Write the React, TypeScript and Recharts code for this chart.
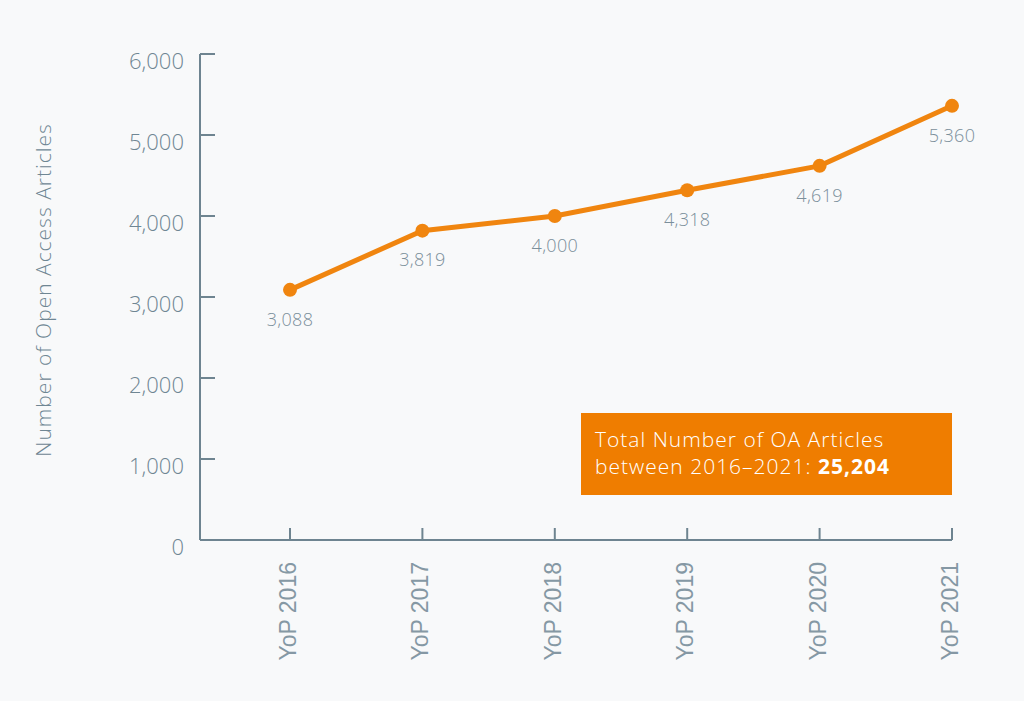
import React from "react";
import { LineChart, Line, XAxis, YAxis, LabelList } from "recharts";

const years = ["YoP 2016", "YoP 2017", "YoP 2018", "YoP 2019", "YoP 2020", "YoP 2021"];
const articles = [3088, 3819, 4000, 4318, 4619, 5360];
const yTicks = [0, 1000, 2000, 3000, 4000, 5000, 6000];
const totalArticles = 25204;

const data = years.map((y, i) => ({ year: y, value: articles[i] }));

const AXIS = "#6e8490";
const TICK_TEXT = "#6f8693";
const LABEL_TEXT = "#7b8f9b";
const ORANGE = "#f0850f";
const BOX = "#ef7d00";
const FONT = "'Open Sans', 'DejaVu Sans', sans-serif";

const fmt = (v: number) => v.toLocaleString("en-US");

const YTick = (props: any) => {
  const { x, y, payload } = props;
  return (
    <g>
      <line x1={x} y1={y} x2={x + 15} y2={y} stroke={AXIS} strokeWidth={2} />
      <text x={x - 16} y={y + 9} textAnchor="end" dominantBaseline="middle" fill={TICK_TEXT} fontSize={22} fontFamily={FONT} fontWeight={300}>
        {fmt(payload.value)}
      </text>
    </g>
  );
};

const XTick = (props: any) => {
  const { x, y, payload } = props;
  return (
    <g>
      <line x1={x} y1={y} x2={x} y2={y - 12} stroke={AXIS} strokeWidth={2} />
      <text
        x={x}
        y={y + 22}
        transform={`rotate(-90 ${x} ${y + 22})`}
        textAnchor="end"
        dominantBaseline="middle"
        fill="#8598a4"
        fontSize={23}
        fontFamily="'Liberation Sans', Arial, sans-serif"
      >
        {payload.value}
      </text>
    </g>
  );
};

const PointLabel = (props: any) => {
  const { x, y, value } = props;
  return (
    <text x={x} y={y + 31} textAnchor="middle" dominantBaseline="middle" fill={LABEL_TEXT} fontSize={18} fontFamily={FONT} fontWeight={300} letterSpacing={0.3}>
      {fmt(value)}
    </text>
  );
};

const YTitle = (props: any) => {
  const { viewBox } = props;
  const cx = viewBox.x - 35;
  const cy = viewBox.y + viewBox.height / 2 - 7;
  return (
    <text x={cx} y={cy} transform={`rotate(-90 ${cx} ${cy})`} textAnchor="middle" dominantBaseline="middle" fill={TICK_TEXT} fontSize={21} fontFamily={FONT} fontWeight={300} letterSpacing={1}>
      Number of Open Access Articles
    </text>
  );
};

export default function App() {
  return (
    <div style={{ position: "fixed", left: 0, top: 0, width: 1024, height: 701, background: "#f8f9fa" }}>
      <LineChart width={1024} height={701} data={data} margin={{ top: 54, right: 72, left: 80, bottom: 41 }}>
        <XAxis
          dataKey="year"
          padding={{ left: 90, right: 0 }}
          axisLine={{ stroke: AXIS, strokeWidth: 2 }}
          tickLine={false}
          tickSize={0}
          tickMargin={0}
          height={120}
          tick={<XTick />}
          interval={0}
        />
        <YAxis
          domain={[0, 6000]}
          ticks={yTicks}
          axisLine={{ stroke: AXIS, strokeWidth: 2 }}
          tickLine={false}
          tickSize={0}
          tickMargin={0}
          width={120}
          tick={<YTick />}
          interval={0}
          label={<YTitle />}
        />
        <Line
          type="linear"
          dataKey="value"
          stroke={ORANGE}
          strokeWidth={5}
          dot={{ r: 7, fill: ORANGE, stroke: "none" }}
          activeDot={false}
          isAnimationActive={false}
        >
          <LabelList dataKey="value" content={<PointLabel />} />
        </Line>
      </LineChart>
      <div
        style={{
          position: "absolute",
          left: 581,
          top: 413,
          width: 371,
          height: 82,
          background: BOX,
          color: "#ffffff",
          fontFamily: FONT,
          fontWeight: 300,
          fontSize: 21,
          letterSpacing: 1,
          lineHeight: "27px",
          boxSizing: "border-box",
          padding: "13px 0 0 14px",
          whiteSpace: "nowrap",
        }}
      >
        <div>Total Number of OA Articles</div>
        <div>
          between 2016–2021: <b style={{ fontWeight: 700 }}>{fmt(totalArticles)}</b>
        </div>
      </div>
    </div>
  );
}
